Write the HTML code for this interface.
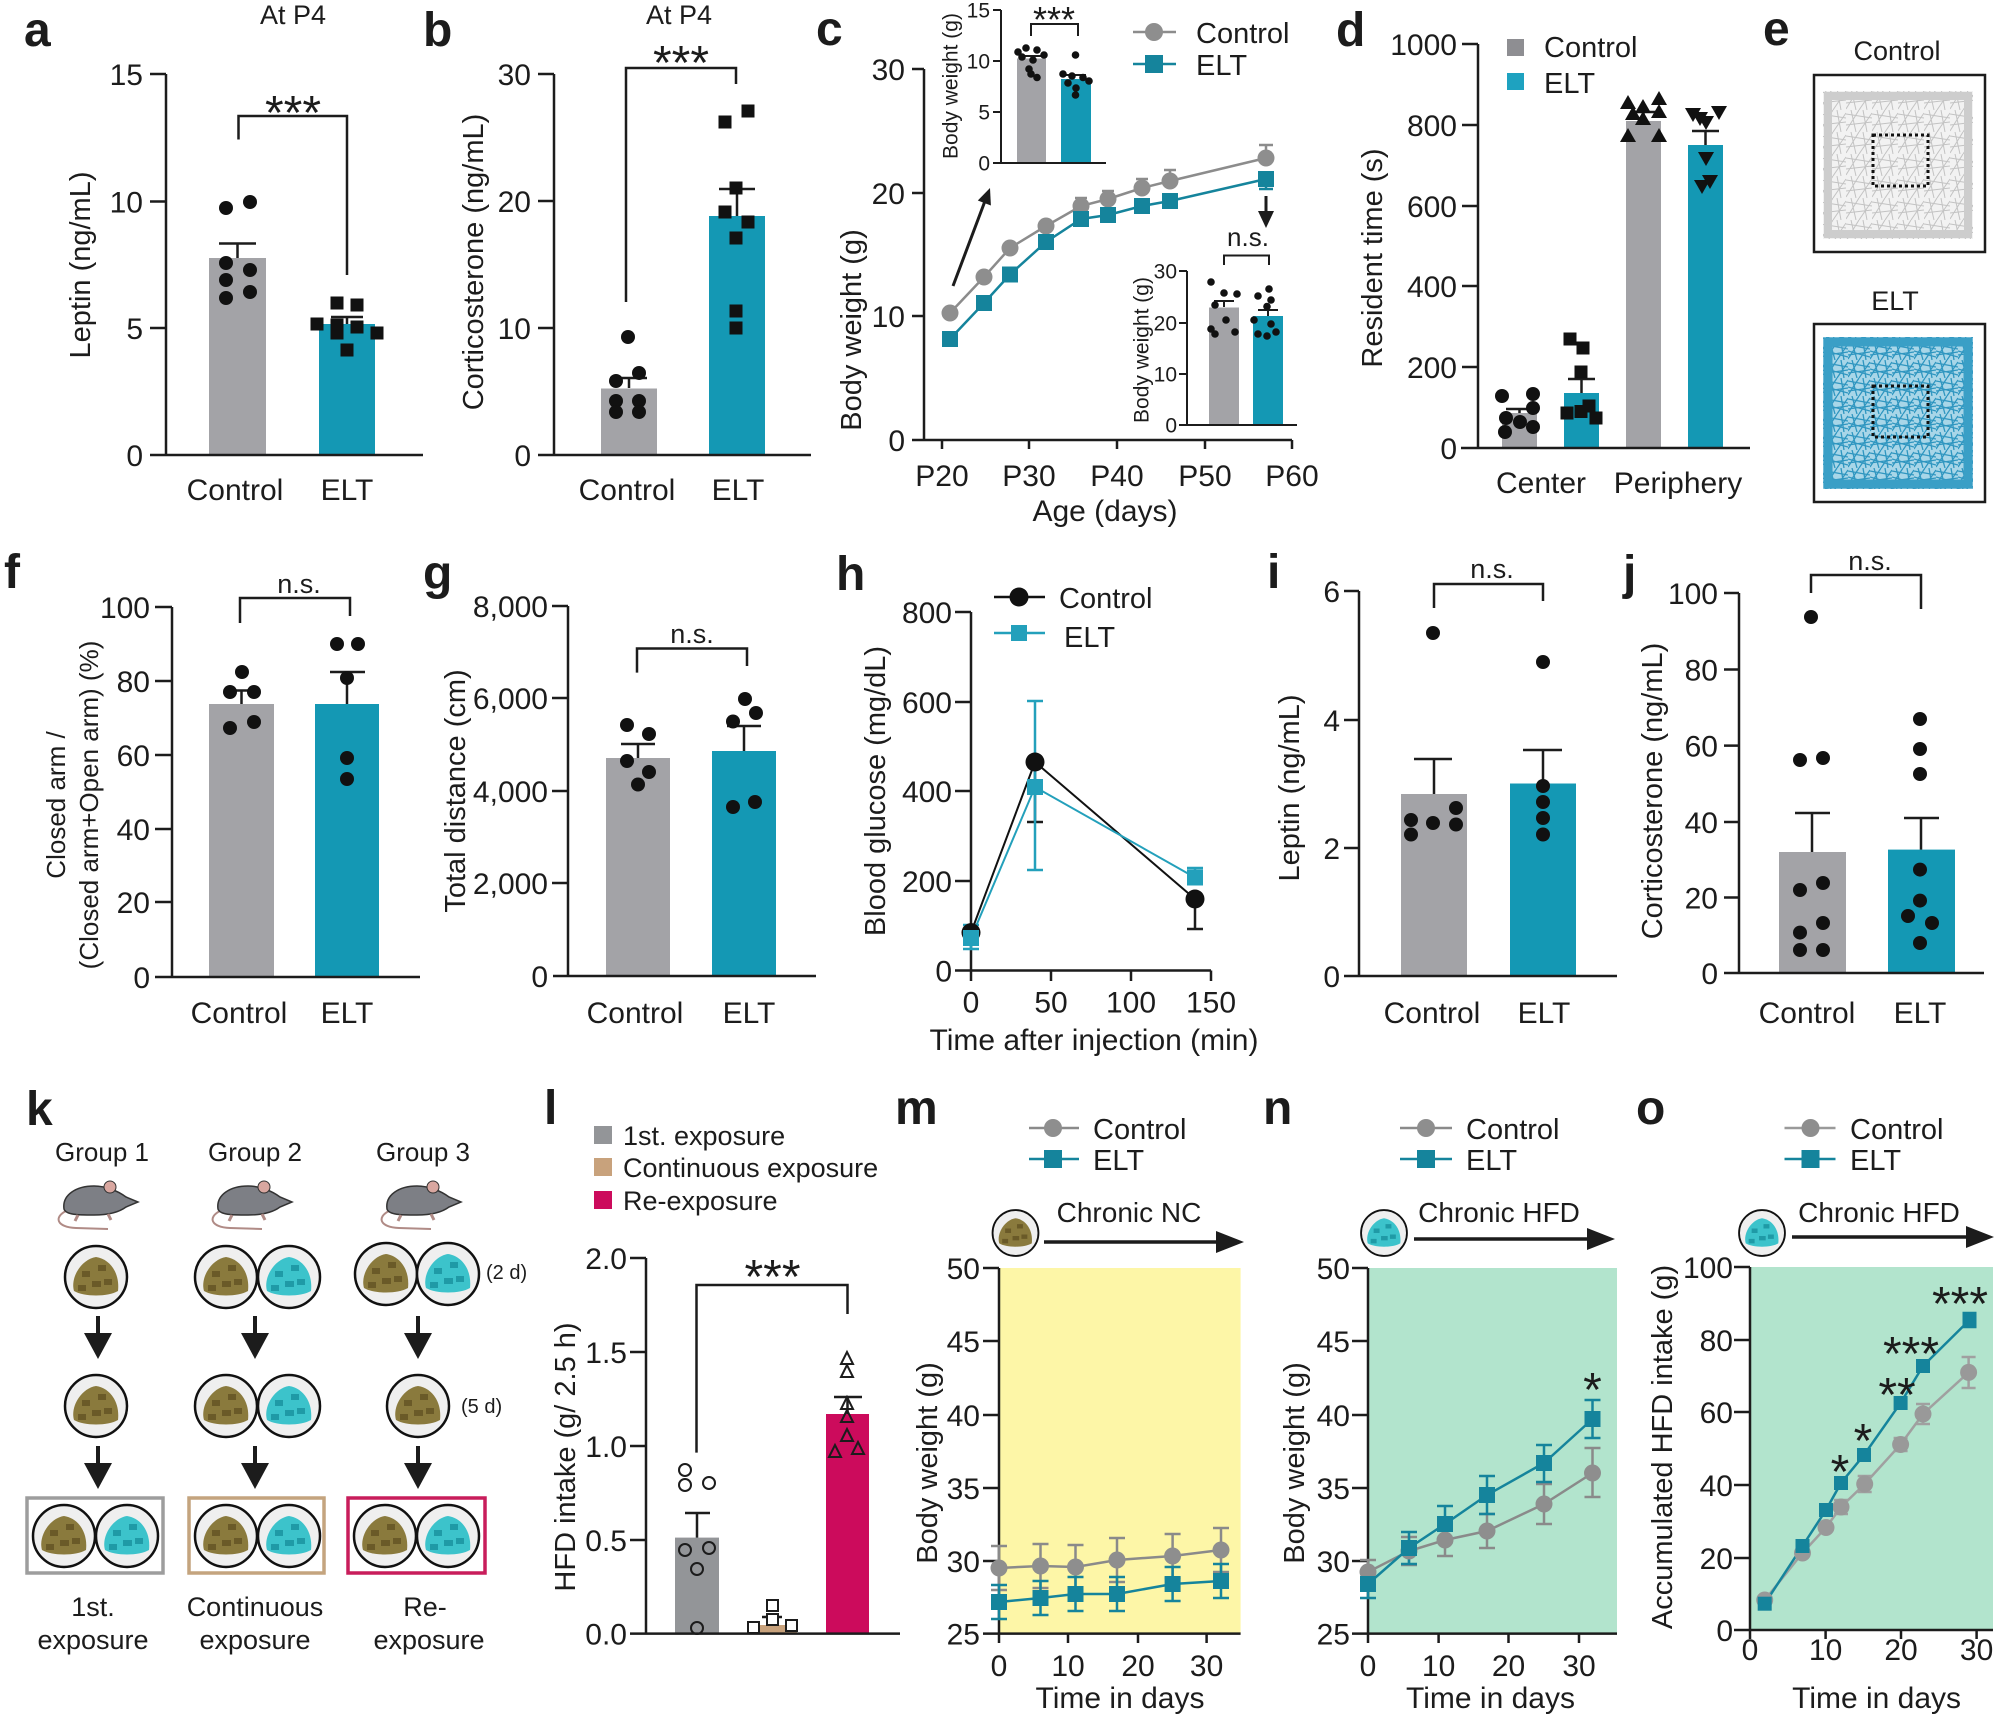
<!DOCTYPE html>
<html><head><meta charset="utf-8">
<style>
html,body{margin:0;padding:0;background:#fff}
svg{display:block}
text{font-family:"Liberation Sans",Arial,sans-serif;fill:#1c1c1c}
.pl{font-size:48px;font-weight:bold}
.tk{font-size:30px;text-anchor:end}
.tks{font-size:21px;text-anchor:end}
.xl{font-size:30px;text-anchor:middle}
.yl{font-size:29px;text-anchor:middle}
.st{font-size:48px;text-anchor:middle}
.ns{font-size:27px;text-anchor:middle}
.lg{font-size:29px}
</style></head><body>
<svg width="1996" height="1715" viewBox="0 0 1996 1715" xmlns="http://www.w3.org/2000/svg">
<defs>
<pattern id="pG" width="26" height="22" patternUnits="userSpaceOnUse"><rect width="26" height="22" fill="#f2f2f2"/><path d="M0 4L26 8M5 0L10 22M0 15L26 12M17 0L21 22M0 21L13 0M13 22L26 3" stroke="#c3c3c3" stroke-width="1" fill="none"/></pattern>
<pattern id="pT" width="22" height="18" patternUnits="userSpaceOnUse"><rect width="22" height="18" fill="#a8d6e8"/><path d="M0 3L22 7M4 0L9 18M0 13L22 10M15 0L18 18M0 17L11 0M11 18L22 2M0 9L22 15" stroke="#2f96c0" stroke-width="1.3" fill="none"/></pattern>
<g id="bp"><circle r="31" fill="#efefef" stroke="#111" stroke-width="2.5"/><path d="M-22 14C-26 0-14-18 0-20C14-18 24-4 22 14C12 20-12 20-22 14Z" fill="#8a7a3d"/><path d="M-14-6h8v6h-8zM2-12h8v6h-8zM-4 4h9v6h-9zM8 2h8v6h-8zM-18 8h8v6h-8z" fill="#6a5a28"/></g>
<g id="tp"><circle r="31" fill="#efefef" stroke="#111" stroke-width="2.5"/><path d="M-22 14C-26 0-14-18 0-20C14-18 24-4 22 14C12 20-12 20-22 14Z" fill="#3cc3cb"/><path d="M-14-6h8v6h-8zM2-12h8v6h-8zM-4 4h9v6h-9zM8 2h8v6h-8zM-18 8h8v6h-8z" fill="#1f9aa6"/></g>
<g id="mouse"><path d="M-30 10C-42 16-40 26-20 27L12 28" fill="none" stroke="#b08b86" stroke-width="2"/><path d="M-32 8C-34-6-20-15-2-15C10-15 22-10 30-4L42 1L30 6C22 12 10 14-2 14C-18 14-30 14-32 8Z" fill="#7d7f85" stroke="#333" stroke-width="1.5"/><ellipse cx="14" cy="-14" rx="6" ry="6" fill="#d9a7a0" stroke="#333" stroke-width="1"/><path d="M-18 14l-3 6M12 13l3 6" stroke="#b08b86" stroke-width="3"/></g>
</defs>

<!-- ===== Panel a ===== -->
<text class="pl" x="24" y="46">a</text>
<text x="293" y="24" font-size="27" text-anchor="middle">At P4</text>
<rect x="209" y="258" width="57" height="197" fill="#a3a3a7"/>
<rect x="319" y="324" width="56" height="131" fill="#1498b4"/>
<g stroke="#1c1c1c" stroke-width="2.5" fill="none">
<path d="M166 74V455M150 455H423M150 74H166M150 201.5H166M150 328H166"/>
<path d="M237.5 258V243.5M219 243.5H256M347 324V317M331 317H363"/>
<path d="M238.5 139.5V116H347V275"/>
</g>
<text class="tk" x="143" y="85">15</text><text class="tk" x="143" y="212.5">10</text><text class="tk" x="143" y="339">5</text><text class="tk" x="143" y="466">0</text>
<text class="st" x="293" y="129">***</text>
<g fill="#111"><circle cx="226" cy="208" r="7"/><circle cx="250" cy="202" r="7"/><circle cx="226" cy="263" r="7"/><circle cx="250" cy="270" r="7"/><circle cx="226" cy="280" r="7"/><circle cx="250" cy="292" r="7"/><circle cx="226" cy="298" r="7"/>
<rect x="330.5" y="296.5" width="13" height="13"/><rect x="350.5" y="298.5" width="13" height="13"/><rect x="310.5" y="317.5" width="13" height="13"/><rect x="330.5" y="318.5" width="13" height="13"/><rect x="350.5" y="320.5" width="13" height="13"/><rect x="370.5" y="326.5" width="13" height="13"/><rect x="340.5" y="343.5" width="13" height="13"/><rect x="330.5" y="326.5" width="13" height="13"/></g>
<text class="yl" transform="translate(80,265) rotate(-90)" dy="0.35em">Leptin (ng/mL)</text>
<text class="xl" x="235" y="500">Control</text><text class="xl" x="347" y="500">ELT</text>

<!-- ===== Panel b ===== -->
<text class="pl" x="423" y="46">b</text>
<text x="679" y="24" font-size="27" text-anchor="middle">At P4</text>
<rect x="601" y="388.5" width="56" height="66.5" fill="#a3a3a7"/>
<rect x="709" y="216" width="56" height="239" fill="#1498b4"/>
<g stroke="#1c1c1c" stroke-width="2.5" fill="none">
<path d="M554 74V455M538 455H811M538 74H554M538 201H554M538 328H554"/>
<path d="M629 388V378M610 378H647M737 216V189M719 189H755"/>
<path d="M626 302V68H736V84"/>
</g>
<text class="tk" x="531" y="85">30</text><text class="tk" x="531" y="212">20</text><text class="tk" x="531" y="339">10</text><text class="tk" x="531" y="466">0</text>
<text class="st" x="681" y="79">***</text>
<g fill="#111"><circle cx="628" cy="337" r="7"/><circle cx="639" cy="373" r="7"/><circle cx="616" cy="381" r="7"/><circle cx="616" cy="401" r="7"/><circle cx="639" cy="401" r="7"/><circle cx="616" cy="412" r="7"/><circle cx="639" cy="412" r="7"/>
<rect x="718.5" y="115.5" width="13" height="13"/><rect x="741.5" y="104.5" width="13" height="13"/><rect x="729.5" y="181.5" width="13" height="13"/><rect x="718.5" y="205.5" width="13" height="13"/><rect x="741.5" y="215.5" width="13" height="13"/><rect x="729.5" y="231.5" width="13" height="13"/><rect x="729.5" y="304.5" width="13" height="13"/><rect x="729.5" y="321.5" width="13" height="13"/></g>
<text class="yl" transform="translate(473,262) rotate(-90)" dy="0.35em">Corticosterone (ng/mL)</text>
<text class="xl" x="627" y="500">Control</text><text class="xl" x="738" y="500">ELT</text>

<!-- ===== Panel c ===== -->
<text class="pl" x="816" y="45">c</text>
<g stroke="#1c1c1c" stroke-width="2.5" fill="none">
<path d="M924 69V440H1292M912 69H924M912 193H924M912 316H924M912 440H924M942 440V449M1029 440V449M1117 440V449M1205 440V449M1292 440V449"/>
</g>
<text class="tk" x="905" y="80">30</text><text class="tk" x="905" y="204">20</text><text class="tk" x="905" y="327">10</text><text class="tk" x="905" y="451">0</text>
<text class="xl" x="942" y="486">P20</text><text class="xl" x="1029" y="486">P30</text><text class="xl" x="1117" y="486">P40</text><text class="xl" x="1205" y="486">P50</text><text class="xl" x="1292" y="486">P60</text>
<text class="xl" x="1105" y="521">Age (days)</text>
<text class="yl" font-size="30" transform="translate(851,330) rotate(-90)" dy="0.35em">Body weight (g)</text>
<g stroke="#8c8c8c" stroke-width="2.5" fill="none"><path d="M1081 206V198M1075 198H1087M1108 199V191M1102 191H1114M1142 188V179M1136 179H1148M1170 181V170M1164 170H1176M1266 158V145M1259 145H1273"/></g>
<g stroke="#15849c" stroke-width="2.5" fill="none"><path d="M1266 179V189M1259 189H1273"/></g>
<polyline points="950,313 984,277 1010,248 1046,226 1081,206 1108,199 1142,188 1170,181 1266,158" fill="none" stroke="#8c8c8c" stroke-width="2.5"/>
<polyline points="950,339 984,303 1010,274.5 1046,242 1081,219 1108,215 1142,206 1170,201 1266,179" fill="none" stroke="#15849c" stroke-width="2.5"/>
<g fill="#8e8e8e"><circle cx="950" cy="313" r="8.5"/><circle cx="984" cy="277" r="8.5"/><circle cx="1010" cy="248" r="8.5"/><circle cx="1046" cy="226" r="8.5"/><circle cx="1081" cy="206" r="8.5"/><circle cx="1108" cy="199" r="8.5"/><circle cx="1142" cy="188" r="8.5"/><circle cx="1170" cy="181" r="8.5"/><circle cx="1266" cy="158" r="8.5"/></g>
<g fill="#15849c"><rect x="942" y="331" width="16" height="16"/><rect x="976" y="295" width="16" height="16"/><rect x="1002" y="266.5" width="16" height="16"/><rect x="1038" y="234" width="16" height="16"/><rect x="1073" y="211" width="16" height="16"/><rect x="1100" y="207" width="16" height="16"/><rect x="1134" y="198" width="16" height="16"/><rect x="1162" y="193" width="16" height="16"/><rect x="1258" y="171" width="16" height="16"/></g>
<g stroke="#1c1c1c" stroke-width="3" fill="none"><path d="M953 286L985 201M1266 196V214"/></g>
<polygon points="990,188 990.9,205.5 977.8,200.5" fill="#1c1c1c"/>
<polygon points="1258,211 1274,211 1266,228" fill="#1c1c1c"/>
<!-- inset 1 -->
<rect x="1017" y="58.5" width="29" height="104.5" fill="#a3a3a7"/>
<rect x="1061" y="79" width="30" height="84" fill="#1498b4"/>
<g stroke="#1c1c1c" stroke-width="2" fill="none"><path d="M1001 10V163M996 163H1106M993 10H1001M993 61H1001M993 112H1001M993 163H1001M1031 36V24H1078V36M1021 56H1041M1066 75H1086"/></g>
<text class="tks" x="990" y="17.5">15</text><text class="tks" x="990" y="68.5">10</text><text class="tks" x="990" y="119.5">5</text><text class="tks" x="990" y="170.5">0</text>
<text x="1054" y="32" font-size="36" text-anchor="middle">***</text>
<g fill="#111"><circle cx="1018" cy="52" r="3.8"/><circle cx="1026" cy="48" r="3.8"/><circle cx="1037" cy="50" r="3.8"/><circle cx="1044" cy="55" r="3.8"/><circle cx="1022" cy="57" r="3.8"/><circle cx="1033" cy="60" r="3.8"/><circle cx="1029" cy="69" r="3.8"/><circle cx="1031" cy="74" r="3.8"/><circle cx="1037" cy="77.5" r="3.8"/>
<circle cx="1075.5" cy="55" r="3.8"/><circle cx="1063" cy="74" r="3.8"/><circle cx="1072" cy="76" r="3.8"/><circle cx="1083" cy="77.5" r="3.8"/><circle cx="1089" cy="81" r="3.8"/><circle cx="1076" cy="88" r="3.8"/><circle cx="1075.5" cy="95" r="3.8"/><circle cx="1068" cy="83" r="3.8"/></g>
<text font-size="21" text-anchor="middle" transform="translate(950,86) rotate(-90)" dy="0.35em">Body weight (g)</text>
<!-- inset 2 -->
<rect x="1209" y="307.5" width="30" height="117.5" fill="#a3a3a7"/>
<rect x="1253" y="316" width="30" height="109" fill="#1498b4"/>
<g stroke="#1c1c1c" stroke-width="2" fill="none"><path d="M1187 271V425M1183 425H1297M1179 271H1187M1179 323H1187M1179 374H1187M1179 425H1187M1224 265V255.5H1269V265M1224 307V301M1214 301H1234M1268 316V310M1258 310H1278"/></g>
<text class="tks" x="1177" y="278.5">30</text><text class="tks" x="1177" y="330.5">20</text><text class="tks" x="1177" y="381.5">10</text><text class="tks" x="1177" y="432.5">0</text>
<text x="1248" y="246" font-size="26" text-anchor="middle">n.s.</text>
<g fill="#111"><circle cx="1211" cy="282" r="3.8"/><circle cx="1224" cy="293" r="3.8"/><circle cx="1237" cy="294" r="3.8"/><circle cx="1215" cy="305" r="3.8"/><circle cx="1226" cy="320" r="3.8"/><circle cx="1235" cy="332" r="3.8"/><circle cx="1215" cy="334" r="3.8"/><circle cx="1211" cy="329" r="3.8"/>
<circle cx="1269" cy="289" r="3.8"/><circle cx="1258" cy="296" r="3.8"/><circle cx="1271" cy="300" r="3.8"/><circle cx="1267" cy="306.5" r="3.8"/><circle cx="1254" cy="320" r="3.8"/><circle cx="1271" cy="324" r="3.8"/><circle cx="1258" cy="334" r="3.8"/><circle cx="1267" cy="336" r="3.8"/><circle cx="1276" cy="332" r="3.8"/></g>
<text font-size="21" text-anchor="middle" transform="translate(1141,350) rotate(-90)" dy="0.35em">Body weight (g)</text>
<!-- legend c -->
<path d="M1133 32H1176" stroke="#8c8c8c" stroke-width="2.5"/><circle cx="1154" cy="32" r="9" fill="#8e8e8e"/>
<path d="M1133 64H1176" stroke="#15849c" stroke-width="2.5"/><rect x="1145" y="55" width="18" height="18" fill="#15849c"/>
<text class="lg" x="1196" y="43">Control</text><text class="lg" x="1196" y="75">ELT</text>

<!-- ===== Panel d ===== -->
<text class="pl" x="1336" y="46">d</text>
<rect x="1502" y="413" width="35" height="35" fill="#a3a3a7"/>
<rect x="1564" y="393" width="35" height="55" fill="#1498b4"/>
<rect x="1626" y="121" width="35" height="327" fill="#a3a3a7"/>
<rect x="1688" y="145" width="35" height="303" fill="#1498b4"/>
<g stroke="#1c1c1c" stroke-width="2.5" fill="none">
<path d="M1478 44V448M1461 448H1750M1462 44H1478M1462 125H1478M1462 206H1478M1462 286H1478M1462 367H1478M1462 448H1478"/>
<path d="M1519.5 413V409M1506 409H1533M1581.5 393V379M1568 379H1595M1643.5 121V112M1630 112H1657M1705.5 145V131M1692 131H1719"/>
</g>
<text class="tk" x="1457" y="55">1000</text><text class="tk" x="1457" y="136">800</text><text class="tk" x="1457" y="217">600</text><text class="tk" x="1457" y="297">400</text><text class="tk" x="1457" y="378">200</text><text class="tk" x="1457" y="459">0</text>
<g fill="#111"><circle cx="1502" cy="396" r="7"/><circle cx="1533" cy="394" r="7"/><circle cx="1533" cy="408" r="7"/><circle cx="1506" cy="418" r="7"/><circle cx="1520" cy="422" r="7"/><circle cx="1533" cy="427" r="7"/><circle cx="1505" cy="432" r="7"/>
<rect x="1563.5" y="332.5" width="13" height="13"/><rect x="1576.5" y="341.5" width="13" height="13"/><rect x="1574.5" y="365.5" width="13" height="13"/><rect x="1560.5" y="406.5" width="13" height="13"/><rect x="1574.5" y="405" width="13" height="13"/><rect x="1589.5" y="411.5" width="13" height="13"/><rect x="1582.5" y="399.5" width="13" height="13"/>
<polygon points="1628,95 1620,109 1636,109"/><polygon points="1643,99 1635,113 1651,113"/><polygon points="1659,91 1651,105 1667,105"/><polygon points="1633,106 1625,120 1641,120"/><polygon points="1643,111 1635,125 1651,125"/><polygon points="1659,104 1651,118 1667,118"/><polygon points="1628,128 1620,142 1636,142"/><polygon points="1659,128 1651,142 1667,142"/>
<polygon points="1685,108 1701,108 1693,122"/><polygon points="1711,106 1727,106 1719,120"/><polygon points="1698,116 1714,116 1706,130"/><polygon points="1692,112 1708,112 1700,126"/><polygon points="1698,152 1714,152 1706,166"/><polygon points="1694,180 1710,180 1702,194"/><polygon points="1702,175 1718,175 1710,189"/></g>
<rect x="1507" y="39" width="17" height="17" fill="#8e8e92"/><text class="lg" x="1544" y="57">Control</text>
<rect x="1507" y="73" width="17" height="17" fill="#1ea2c0"/><text class="lg" x="1544" y="93">ELT</text>
<text class="xl" x="1541" y="493">Center</text><text class="xl" x="1678" y="493">Periphery</text>
<text class="yl" font-size="30" transform="translate(1372,258) rotate(-90)" dy="0.35em">Resident time (s)</text>

<!-- ===== Panel e ===== -->
<text class="pl" x="1763" y="45">e</text>
<text x="1897" y="60" font-size="27" text-anchor="middle">Control</text>
<rect x="1823" y="91" width="150" height="148" fill="url(#pG)"/>
<rect x="1828" y="96" width="140" height="138" fill="none" stroke="#cdcdcd" stroke-width="8"/>
<rect x="1873" y="135" width="55" height="51" fill="none" stroke="#111" stroke-width="3" stroke-dasharray="3,3"/>
<rect x="1814" y="75" width="171" height="177" fill="none" stroke="#1c1c1c" stroke-width="2.5"/>
<text x="1895" y="310" font-size="27" text-anchor="middle">ELT</text>
<rect x="1823" y="337" width="150" height="152" fill="url(#pT)"/>
<rect x="1828" y="342" width="140" height="142" fill="none" stroke="#3a9fc6" stroke-width="9"/>
<rect x="1873" y="386" width="55" height="51" fill="none" stroke="#111" stroke-width="3" stroke-dasharray="3,3"/>
<rect x="1814" y="324" width="171" height="178" fill="none" stroke="#1c1c1c" stroke-width="2.5"/>

<!-- ===== Panel f ===== -->
<text class="pl" x="4" y="588">f</text>
<rect x="209" y="704" width="65" height="273" fill="#a3a3a7"/>
<rect x="315" y="704" width="64" height="273" fill="#1498b4"/>
<g stroke="#1c1c1c" stroke-width="2.5" fill="none">
<path d="M172 607V977M155 977H420M155 607H172M155 681H172M155 755H172M155 829H172M155 902H172"/>
<path d="M241.5 704V690.5M225 690.5H258M347 704V672M330 672H365"/>
<path d="M240 623V598H350V616"/>
</g>
<text class="tk" x="150" y="618">100</text><text class="tk" x="150" y="692">80</text><text class="tk" x="150" y="766">60</text><text class="tk" x="150" y="840">40</text><text class="tk" x="150" y="913">20</text><text class="tk" x="150" y="988">0</text>
<text class="ns" x="299" y="593">n.s.</text>
<g fill="#111"><circle cx="242" cy="672" r="7"/><circle cx="230" cy="692" r="7"/><circle cx="254" cy="692" r="7"/><circle cx="230" cy="728" r="7"/><circle cx="254" cy="722" r="7"/><circle cx="337" cy="644" r="7"/><circle cx="358" cy="644" r="7"/><circle cx="347" cy="678" r="7"/><circle cx="347" cy="758" r="7"/><circle cx="347" cy="779" r="7"/></g>
<text font-size="26" text-anchor="middle" transform="translate(56,805) rotate(-90)" dy="0.35em">Closed arm /</text>
<text font-size="26" text-anchor="middle" transform="translate(89,805) rotate(-90)" dy="0.35em">(Closed arm+Open arm) (%)</text>
<text class="xl" x="239" y="1023">Control</text><text class="xl" x="347" y="1023">ELT</text>

<!-- ===== Panel g ===== -->
<text class="pl" x="423" y="589">g</text>
<rect x="606" y="758" width="64" height="218" fill="#a3a3a7"/>
<rect x="712" y="751" width="64" height="225" fill="#1498b4"/>
<g stroke="#1c1c1c" stroke-width="2.5" fill="none">
<path d="M568 606V976M553 976H816M552 606H568M552 698H568M552 791H568M552 883H568"/>
<path d="M638 758V744M621 744H655M744 751V726M727 726H761"/>
<path d="M637 672.6V648.5H747V666"/>
</g>
<text class="tk" x="548" y="617">8,000</text><text class="tk" x="548" y="709">6,000</text><text class="tk" x="548" y="802">4,000</text><text class="tk" x="548" y="894">2,000</text><text class="tk" x="548" y="987">0</text>
<text class="ns" x="692" y="643">n.s.</text>
<g fill="#111"><circle cx="627" cy="725" r="7"/><circle cx="649" cy="734" r="7"/><circle cx="627" cy="761" r="7"/><circle cx="649" cy="772" r="7"/><circle cx="638" cy="784.5" r="7"/><circle cx="745" cy="699" r="7"/><circle cx="756" cy="713" r="7"/><circle cx="733" cy="721.5" r="7"/><circle cx="733" cy="807" r="7"/><circle cx="755" cy="802" r="7"/></g>
<text class="yl" transform="translate(455,791) rotate(-90)" dy="0.35em">Total distance (cm)</text>
<text class="xl" x="635" y="1023">Control</text><text class="xl" x="749" y="1023">ELT</text>

<!-- ===== Panel h ===== -->
<text class="pl" x="836" y="590">h</text>
<g stroke="#1c1c1c" stroke-width="2.5" fill="none">
<path d="M971 612V970.5M959 970.5H1211M955 612H971M955 702H971M955 791H971M955 881H971M955 970.5H971M971 970.5V981M1051 970.5V981M1131 970.5V981M1211 970.5V981"/>
<path d="M1035 762V822M1027 822H1043M1195 899V929M1187 929H1203"/>
</g>
<g stroke="#23a0bb" stroke-width="2.5" fill="none"><path d="M1035 787V701M1027 701H1043M1035 787V870M1027 870H1043M1195 877.5V868M1187 868H1203M971 938V949M963 949H979M971 938V925M963 925H979"/></g>
<polyline points="971,932.6 1035,762 1195,899" fill="none" stroke="#111" stroke-width="2"/>
<polyline points="971,938 1035,787 1195,877.5" fill="none" stroke="#23a0bb" stroke-width="2"/>
<g fill="#111"><circle cx="971" cy="932.6" r="9.5"/><circle cx="1035" cy="762" r="9.5"/><circle cx="1195" cy="899" r="9.5"/></g>
<g fill="#23a0bb"><rect x="963" y="930" width="16" height="16"/><rect x="1027" y="779" width="16" height="16"/><rect x="1187" y="869.5" width="16" height="16"/></g>
<text class="tk" x="952" y="623">800</text><text class="tk" x="952" y="713">600</text><text class="tk" x="952" y="802">400</text><text class="tk" x="952" y="892">200</text><text class="tk" x="952" y="981.5">0</text>
<text class="xl" x="971" y="1012.5">0</text><text class="xl" x="1051" y="1012.5">50</text><text class="xl" x="1131" y="1012.5">100</text><text class="xl" x="1211" y="1012.5">150</text>
<text class="xl" x="1094" y="1050">Time after injection (min)</text>
<path d="M994 597H1045" stroke="#111" stroke-width="2.5"/><circle cx="1019" cy="597" r="9.5" fill="#111"/>
<path d="M994 633H1045" stroke="#23a0bb" stroke-width="2.5"/><rect x="1011" y="625" width="16" height="16" fill="#23a0bb"/>
<text class="lg" x="1059" y="608">Control</text><text class="lg" x="1064" y="647">ELT</text>
<text class="yl" transform="translate(875,791) rotate(-90)" dy="0.35em">Blood glucose (mg/dL)</text>

<!-- ===== Panel i ===== -->
<text class="pl" x="1267" y="588">i</text>
<rect x="1401" y="794" width="66" height="182" fill="#a3a3a7"/>
<rect x="1510" y="783.5" width="66" height="192.5" fill="#1498b4"/>
<g stroke="#1c1c1c" stroke-width="2.5" fill="none">
<path d="M1359 591V976M1344 976H1617M1344 591H1359M1344 720H1359M1344 848H1359"/>
<path d="M1434 794V759M1414 759H1452M1543 783.5V750M1523 750H1562"/>
<path d="M1434 608V584H1543V601"/>
</g>
<text class="tk" x="1340" y="602">6</text><text class="tk" x="1340" y="731">4</text><text class="tk" x="1340" y="859">2</text><text class="tk" x="1340" y="987">0</text>
<text class="ns" x="1492" y="578">n.s.</text>
<g fill="#111"><circle cx="1433" cy="633" r="7"/><circle cx="1411" cy="820" r="7"/><circle cx="1433" cy="823" r="7"/><circle cx="1456" cy="808" r="7"/><circle cx="1456" cy="824.5" r="7"/><circle cx="1411" cy="834.5" r="7"/><circle cx="1543" cy="662" r="7"/><circle cx="1543" cy="786" r="7"/><circle cx="1543" cy="802" r="7"/><circle cx="1543" cy="818" r="7"/><circle cx="1543" cy="834.5" r="7"/></g>
<text class="yl" transform="translate(1289,788) rotate(-90)" dy="0.35em">Leptin (ng/mL)</text>
<text class="xl" x="1432" y="1023">Control</text><text class="xl" x="1544" y="1023">ELT</text>

<!-- ===== Panel j ===== -->
<text class="pl" x="1623" y="589">j</text>
<rect x="1779" y="852" width="67" height="121" fill="#a3a3a7"/>
<rect x="1888" y="849.6" width="67" height="123.4" fill="#1498b4"/>
<g stroke="#1c1c1c" stroke-width="2.5" fill="none">
<path d="M1739 593V973M1724 973H1984M1724 593H1739M1724 669.5H1739M1724 745.6H1739M1724 822H1739M1724 897.5H1739"/>
<path d="M1812 852V813M1795 813H1830M1921 849.6V818M1904 818H1939"/>
<path d="M1811 593V575H1921V609"/>
</g>
<text class="tk" x="1718" y="604">100</text><text class="tk" x="1718" y="680.5">80</text><text class="tk" x="1718" y="756.6">60</text><text class="tk" x="1718" y="833">40</text><text class="tk" x="1718" y="908.5">20</text><text class="tk" x="1718" y="984">0</text>
<text class="ns" x="1870" y="570">n.s.</text>
<g fill="#111"><circle cx="1811" cy="617" r="7"/><circle cx="1800" cy="760" r="7"/><circle cx="1823" cy="758" r="7"/><circle cx="1800" cy="890" r="7"/><circle cx="1823" cy="883" r="7"/><circle cx="1800" cy="932.6" r="7"/><circle cx="1823" cy="923" r="7"/><circle cx="1800" cy="950" r="7"/><circle cx="1823" cy="950" r="7"/>
<circle cx="1920" cy="719" r="7"/><circle cx="1920" cy="749" r="7"/><circle cx="1920" cy="774" r="7"/><circle cx="1920" cy="869.6" r="7"/><circle cx="1920" cy="900.6" r="7"/><circle cx="1908" cy="916" r="7"/><circle cx="1932" cy="923" r="7"/><circle cx="1920" cy="943" r="7"/></g>
<text class="yl" transform="translate(1652,791) rotate(-90)" dy="0.35em">Corticosterone (ng/mL)</text>
<text class="xl" x="1807" y="1023">Control</text><text class="xl" x="1920" y="1023">ELT</text>

<!-- ===== Panel k ===== -->
<text class="pl" x="26" y="1125">k</text>
<text x="102" y="1161" font-size="26" text-anchor="middle">Group 1</text>
<text x="255" y="1161" font-size="26" text-anchor="middle">Group 2</text>
<text x="423" y="1161" font-size="26" text-anchor="middle">Group 3</text>
<use href="#mouse" x="96" y="1201"/><use href="#mouse" x="250" y="1201"/><use href="#mouse" x="419" y="1201"/>
<use href="#bp" x="96" y="1277"/><use href="#bp" x="226" y="1277"/><use href="#tp" x="289" y="1277"/><use href="#bp" x="386" y="1274"/><use href="#tp" x="448" y="1274"/>
<text x="486" y="1279" font-size="20">(2 d)</text>
<g fill="#1c1c1c"><rect x="96" y="1316" width="4" height="20"/><polygon points="84,1333 112,1333 98,1359"/><rect x="253" y="1316" width="4" height="20"/><polygon points="241,1333 269,1333 255,1359"/><rect x="416" y="1316" width="4" height="20"/><polygon points="404,1333 432,1333 418,1359"/>
<rect x="96" y="1446" width="4" height="20"/><polygon points="84,1463 112,1463 98,1489"/><rect x="253" y="1446" width="4" height="20"/><polygon points="241,1463 269,1463 255,1489"/><rect x="416" y="1446" width="4" height="20"/><polygon points="404,1463 432,1463 418,1489"/></g>
<use href="#bp" x="96" y="1406"/><use href="#bp" x="226" y="1406"/><use href="#tp" x="289" y="1406"/><use href="#bp" x="418" y="1406"/>
<text x="461" y="1413" font-size="20">(5 d)</text>
<rect x="27" y="1498" width="136" height="75" fill="#fff" stroke="#9d9d9d" stroke-width="3.5"/>
<rect x="189" y="1498" width="135" height="75" fill="#fff" stroke="#c4a47e" stroke-width="3.5"/>
<rect x="348" y="1498" width="137" height="75" fill="#fff" stroke="#c81d5b" stroke-width="3.5"/>
<use href="#bp" x="64" y="1536"/><use href="#tp" x="127" y="1536"/><use href="#bp" x="226" y="1536"/><use href="#tp" x="289" y="1536"/><use href="#bp" x="385" y="1536"/><use href="#tp" x="448" y="1536"/>
<text x="93" y="1616" font-size="27" text-anchor="middle">1st.</text><text x="93" y="1649" font-size="27" text-anchor="middle">exposure</text>
<text x="255" y="1616" font-size="27" text-anchor="middle">Continuous</text><text x="255" y="1649" font-size="27" text-anchor="middle">exposure</text>
<text x="425" y="1616" font-size="27" text-anchor="middle">Re-</text><text x="429" y="1649" font-size="27" text-anchor="middle">exposure</text>

<!-- ===== Panel l ===== -->
<text class="pl" x="544" y="1124">l</text>
<rect x="594" y="1126" width="18" height="18" fill="#939598"/><text x="623" y="1145" font-size="27">1st. exposure</text>
<rect x="594" y="1158" width="18" height="18" fill="#c8a27c"/><text x="623" y="1177" font-size="27">Continuous exposure</text>
<rect x="594" y="1191" width="18" height="18" fill="#cc0b5c"/><text x="623" y="1210" font-size="27">Re-exposure</text>
<rect x="675" y="1537.6" width="44" height="96" fill="#939598"/>
<rect x="747" y="1625" width="50" height="8.6" fill="#c8a27c"/>
<rect x="826" y="1414" width="43" height="219.6" fill="#cc0b5c"/>
<g stroke="#1c1c1c" stroke-width="2.5" fill="none">
<path d="M646 1258V1633.6M630 1633.6H900M630 1258H646M630 1352H646M630 1446H646M630 1540H646M630 1633.6H646"/>
<path d="M697 1537.6V1513M685 1513H710M772 1625V1617M762 1617H782M847.5 1414V1397M834 1397H862"/>
<path d="M696.5 1452.6V1285H847.5V1314"/>
</g>
<text class="tk" x="627" y="1269">2.0</text><text class="tk" x="627" y="1363">1.5</text><text class="tk" x="627" y="1457">1.0</text><text class="tk" x="627" y="1551">0.5</text><text class="tk" x="627" y="1644.6">0.0</text>
<text class="st" x="772.5" y="1293">***</text>
<g fill="none" stroke="#1c1c1c" stroke-width="2"><circle cx="685" cy="1470" r="6"/><circle cx="685" cy="1485" r="6"/><circle cx="709" cy="1483" r="6"/><circle cx="685" cy="1550" r="6"/><circle cx="709" cy="1548" r="6"/><circle cx="697" cy="1569" r="6"/><circle cx="697" cy="1628" r="6"/>
<polygon points="847,1352 841,1364 853,1364"/><polygon points="847,1365 841,1377 853,1377"/><polygon points="847,1397 841,1409 853,1409"/><polygon points="847,1410 841,1422 853,1422"/><polygon points="847,1429 841,1441 853,1441"/><polygon points="835,1445 829,1457 841,1457"/><polygon points="858,1442 852,1454 864,1454"/></g>
<g fill="#fff" stroke="#1c1c1c" stroke-width="2"><rect x="767" y="1600" width="11" height="11"/><rect x="767" y="1614" width="11" height="11"/><rect x="748" y="1622" width="11" height="11"/><rect x="786" y="1620" width="11" height="11"/></g>
<text class="yl" transform="translate(565,1457) rotate(-90)" dy="0.35em">HFD intake (g/ 2.5 h)</text>

<!-- ===== Panel m ===== -->
<text class="pl" x="895" y="1124">m</text>
<path d="M1029 1128H1079" stroke="#8a8a8a" stroke-width="2.5"/><circle cx="1053" cy="1128" r="9" fill="#8e8e8e"/>
<path d="M1029 1159H1079" stroke="#15849c" stroke-width="2.5"/><rect x="1044" y="1150" width="18" height="18" fill="#15849c"/>
<text class="lg" x="1093" y="1139">Control</text><text class="lg" x="1093" y="1170">ELT</text>
<use href="#bp" transform="translate(1015.5,1233) scale(0.74)"/>
<text x="1129" y="1222" font-size="28" text-anchor="middle">Chronic NC</text>
<path d="M1044 1242H1222" stroke="#1c1c1c" stroke-width="3.5"/><polygon points="1216,1231 1244,1242 1216,1253" fill="#1c1c1c"/>
<rect x="999" y="1268" width="241.6" height="365.6" fill="#fdf6a7"/>
<g stroke="#1c1c1c" stroke-width="2.5" fill="none">
<path d="M999 1268V1633.6H1240.6M983 1268H999M983 1341H999M983 1415H999M983 1488H999M983 1561H999M983 1633.6H999M999 1633.6V1643M1068 1633.6V1643M1138 1633.6V1643M1206.6 1633.6V1643"/>
</g>
<g stroke="#8a8a8a" stroke-width="2.5" fill="none"><path d="M999 1546V1590M991 1546H1007M991 1590H1007M1040.5 1544V1588M1032.5 1544H1048.5M1032.5 1588H1048.5M1075.5 1545V1589M1067.5 1545H1083.5M1067.5 1589H1083.5M1117 1538V1582M1109 1538H1125M1109 1582H1125M1172.6 1534V1578M1164.6 1534H1180.6M1164.6 1578H1180.6M1221 1528V1572M1213 1528H1229M1213 1572H1229"/></g>
<g stroke="#15849c" stroke-width="2.5" fill="none"><path d="M999 1585V1619M991 1585H1007M991 1619H1007M1040.5 1581V1615M1032.5 1581H1048.5M1032.5 1615H1048.5M1075.5 1577V1611M1067.5 1577H1083.5M1067.5 1611H1083.5M1117 1577V1611M1109 1577H1125M1109 1611H1125M1172.6 1567V1601M1164.6 1567H1180.6M1164.6 1601H1180.6M1221 1564V1598M1213 1564H1229M1213 1598H1229"/></g>
<polyline points="999,1568 1040.5,1566 1075.5,1567 1117,1560 1172.6,1556 1221,1550" fill="none" stroke="#8a8a8a" stroke-width="2.5"/>
<polyline points="999,1602 1040.5,1598 1075.5,1594 1117,1594 1172.6,1584 1221,1581" fill="none" stroke="#15849c" stroke-width="2.5"/>
<g fill="#8e8e8e"><circle cx="999" cy="1568" r="8.5"/><circle cx="1040.5" cy="1566" r="8.5"/><circle cx="1075.5" cy="1567" r="8.5"/><circle cx="1117" cy="1560" r="8.5"/><circle cx="1172.6" cy="1556" r="8.5"/><circle cx="1221" cy="1550" r="8.5"/></g>
<g fill="#15849c"><rect x="991" y="1594" width="16" height="16"/><rect x="1032.5" y="1590" width="16" height="16"/><rect x="1067.5" y="1586" width="16" height="16"/><rect x="1109" y="1586" width="16" height="16"/><rect x="1164.6" y="1576" width="16" height="16"/><rect x="1213" y="1573" width="16" height="16"/></g>
<text class="tk" x="980" y="1279">50</text><text class="tk" x="980" y="1352">45</text><text class="tk" x="980" y="1426">40</text><text class="tk" x="980" y="1499">35</text><text class="tk" x="980" y="1572">30</text><text class="tk" x="980" y="1644.6">25</text>
<text class="xl" x="999" y="1676">0</text><text class="xl" x="1068" y="1676">10</text><text class="xl" x="1138" y="1676">20</text><text class="xl" x="1206.6" y="1676">30</text>
<text class="xl" x="1120" y="1708">Time in days</text>
<text class="yl" font-size="30" transform="translate(927,1463) rotate(-90)" dy="0.35em">Body weight (g)</text>

<!-- ===== Panel n ===== -->
<text class="pl" x="1263" y="1124">n</text>
<path d="M1400 1128H1452" stroke="#8a8a8a" stroke-width="2.5"/><circle cx="1426" cy="1128" r="9" fill="#8e8e8e"/>
<path d="M1400 1159H1452" stroke="#15849c" stroke-width="2.5"/><rect x="1417" y="1150" width="18" height="18" fill="#15849c"/>
<text class="lg" x="1466" y="1139">Control</text><text class="lg" x="1466" y="1170">ELT</text>
<use href="#tp" transform="translate(1384,1233) scale(0.74)"/>
<text x="1499" y="1222" font-size="28" text-anchor="middle">Chronic HFD</text>
<path d="M1414 1239H1592" stroke="#1c1c1c" stroke-width="3.5"/><polygon points="1587,1228 1615,1239 1587,1250" fill="#1c1c1c"/>
<rect x="1368" y="1268" width="249" height="365.6" fill="#b2e4cd"/>
<g stroke="#1c1c1c" stroke-width="2.5" fill="none">
<path d="M1368 1268V1633.6H1617M1352 1268H1368M1352 1341H1368M1352 1415H1368M1352 1488H1368M1352 1561H1368M1352 1633.6H1368M1368 1633.6V1643M1438.6 1633.6V1643M1508.5 1633.6V1643M1579 1633.6V1643"/>
</g>
<g stroke="#8a8a8a" stroke-width="2.5" fill="none"><path d="M1368 1560V1584M1360 1560H1376M1409 1537V1565M1401 1537H1417M1401 1565H1417M1445 1524V1556M1437 1524H1453M1437 1556H1453M1487 1514V1548M1479 1514H1495M1479 1548H1495M1544 1484V1524M1536 1484H1552M1536 1524H1552M1592.5 1448V1497M1584.5 1448H1600.5M1584.5 1497H1600.5"/></g>
<g stroke="#15849c" stroke-width="2.5" fill="none"><path d="M1368 1570V1598M1360 1598H1376M1409 1532V1564M1401 1532H1417M1401 1564H1417M1445 1506V1542M1437 1506H1453M1437 1542H1453M1487 1476V1514M1479 1476H1495M1479 1514H1495M1544 1445V1482M1536 1445H1552M1536 1482H1552M1592.5 1400V1438M1584.5 1400H1600.5M1584.5 1438H1600.5"/></g>
<polyline points="1368,1572 1409,1551 1445,1540 1487,1531 1544,1504 1592.5,1473" fill="none" stroke="#8a8a8a" stroke-width="2.5"/>
<polyline points="1368,1584 1409,1548 1445,1524 1487,1495 1544,1463 1592.5,1419" fill="none" stroke="#15849c" stroke-width="2.5"/>
<g fill="#8e8e8e"><circle cx="1368" cy="1572" r="8.5"/><circle cx="1409" cy="1551" r="8.5"/><circle cx="1445" cy="1540" r="8.5"/><circle cx="1487" cy="1531" r="8.5"/><circle cx="1544" cy="1504" r="8.5"/><circle cx="1592.5" cy="1473" r="8.5"/></g>
<g fill="#15849c"><rect x="1360" y="1576" width="16" height="16"/><rect x="1401" y="1540" width="16" height="16"/><rect x="1437" y="1516" width="16" height="16"/><rect x="1479" y="1487" width="16" height="16"/><rect x="1536" y="1455" width="16" height="16"/><rect x="1584.5" y="1411" width="16" height="16"/></g>
<text class="st" x="1592.5" y="1406">*</text>
<text class="tk" x="1350" y="1279">50</text><text class="tk" x="1350" y="1352">45</text><text class="tk" x="1350" y="1426">40</text><text class="tk" x="1350" y="1499">35</text><text class="tk" x="1350" y="1572">30</text><text class="tk" x="1350" y="1644.6">25</text>
<text class="xl" x="1368" y="1676">0</text><text class="xl" x="1438.6" y="1676">10</text><text class="xl" x="1508.5" y="1676">20</text><text class="xl" x="1579" y="1676">30</text>
<text class="xl" x="1490.5" y="1708">Time in days</text>
<text class="yl" font-size="30" transform="translate(1294,1463) rotate(-90)" dy="0.35em">Body weight (g)</text>

<!-- ===== Panel o ===== -->
<text class="pl" x="1636" y="1124">o</text>
<path d="M1784.5 1128H1835.5" stroke="#9a9a9a" stroke-width="2.5"/><circle cx="1810.5" cy="1128" r="9" fill="#8e8e8e"/>
<path d="M1784.5 1159H1835.5" stroke="#15849c" stroke-width="2.5"/><rect x="1801.5" y="1150" width="18" height="18" fill="#15849c"/>
<text class="lg" x="1850" y="1139">Control</text><text class="lg" x="1850" y="1170">ELT</text>
<use href="#tp" transform="translate(1762,1233) scale(0.74)"/>
<text x="1879" y="1222" font-size="28" text-anchor="middle">Chronic HFD</text>
<path d="M1792 1237H1970" stroke="#1c1c1c" stroke-width="3.5"/><polygon points="1966,1226 1994,1237 1966,1248" fill="#1c1c1c"/>
<rect x="1750" y="1267" width="243" height="363" fill="#b2e4cd"/>
<g stroke="#1c1c1c" stroke-width="2.5" fill="none">
<path d="M1750 1267V1630H1993M1734 1267H1750M1734 1340H1750M1734 1412H1750M1734 1485H1750M1734 1558H1750M1734 1630H1750M1750 1630V1639M1825.6 1630V1639M1901 1630V1639M1976.6 1630V1639"/>
</g>
<g stroke="#a0a0a0" stroke-width="2.5" fill="none"><path d="M1841 1500V1514M1834 1500H1848M1834 1514H1848M1864.7 1476V1492M1857.7 1476H1871.7M1857.7 1492H1871.7M1900.6 1438V1451M1893.6 1438H1907.6M1893.6 1451H1907.6M1923 1404V1424M1916 1404H1930M1916 1424H1930M1968.6 1357V1388M1961.6 1357H1975.6M1961.6 1388H1975.6"/></g>
<g stroke="#15849c" stroke-width="2.5" fill="none"><path d="M1969.5 1313V1327M1962.5 1313H1976.5M1962.5 1327H1976.5"/></g>
<polyline points="1764.7,1600 1802.5,1553 1826,1527.5 1841,1507 1864.7,1484 1900.6,1444.5 1923,1414 1968.6,1372.4" fill="none" stroke="#a0a0a0" stroke-width="2.5"/>
<polyline points="1764.7,1603.7 1802.5,1546 1826,1510 1841,1483 1864,1455 1900.6,1403 1923,1366 1969.5,1320" fill="none" stroke="#15849c" stroke-width="2.5"/>
<g fill="#999"><circle cx="1764.7" cy="1600" r="8.5"/><circle cx="1802.5" cy="1553" r="8.5"/><circle cx="1826" cy="1527.5" r="8.5"/><circle cx="1841" cy="1507" r="8.5"/><circle cx="1864.7" cy="1484" r="8.5"/><circle cx="1900.6" cy="1444.5" r="8.5"/><circle cx="1923" cy="1414" r="8.5"/><circle cx="1968.6" cy="1372.4" r="8.5"/></g>
<g fill="#15849c"><rect x="1757.7" y="1596.7" width="14" height="14"/><rect x="1795.5" y="1539" width="14" height="14"/><rect x="1819" y="1503" width="14" height="14"/><rect x="1834" y="1476" width="14" height="14"/><rect x="1857" y="1448" width="14" height="14"/><rect x="1893.6" y="1396" width="14" height="14"/><rect x="1916" y="1359" width="14" height="14"/><rect x="1962.5" y="1313" width="14" height="14"/></g>
<text class="st" x="1840" y="1488">*</text><text class="st" x="1863" y="1457">*</text><text class="st" x="1897" y="1411">**</text><text class="st" x="1911" y="1370">***</text><text class="st" x="1960" y="1320">***</text>
<text class="tk" x="1733" y="1278">100</text><text class="tk" x="1733" y="1351">80</text><text class="tk" x="1733" y="1423">60</text><text class="tk" x="1733" y="1496">40</text><text class="tk" x="1733" y="1569">20</text><text class="tk" x="1733" y="1641">0</text>
<text class="xl" x="1750" y="1660">0</text><text class="xl" x="1825.6" y="1660">10</text><text class="xl" x="1901" y="1660">20</text><text class="xl" x="1976.6" y="1660">30</text>
<text class="xl" x="1876.6" y="1708">Time in days</text>
<text class="yl" font-size="30" transform="translate(1662,1447) rotate(-90)" dy="0.35em">Accumulated HFD intake (g)</text>
</svg>
</body></html>
